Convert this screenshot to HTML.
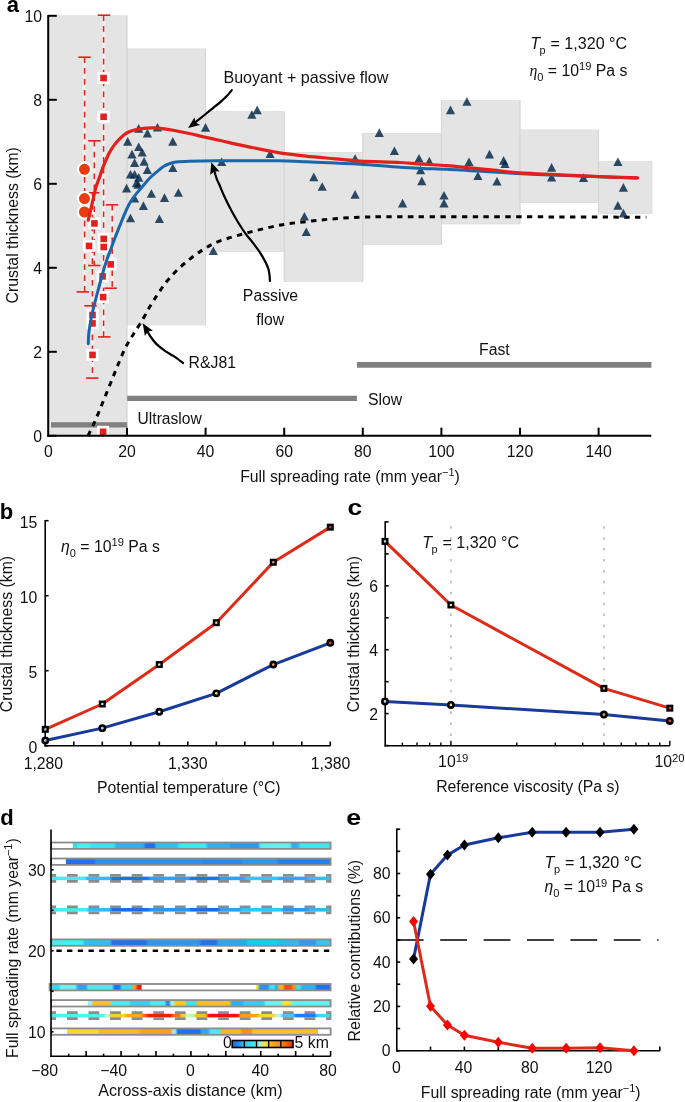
<!DOCTYPE html>
<html><head><meta charset="utf-8"><style>
html,body{margin:0;padding:0;background:#fff;}
svg{display:block;will-change:transform;}
text{font-family:"Liberation Sans",sans-serif;}
</style></head><body>
<svg width="685" height="1102" viewBox="0 0 685 1102">
<rect width="685" height="1102" fill="#fff"/>
<rect x="48.40" y="15.80" width="78.60" height="420.00" fill="#e4e4e4" stroke="#d9d9d9" stroke-width="0.7"/>
<rect x="127.00" y="48.90" width="78.60" height="276.00" fill="#e4e4e4" stroke="#d9d9d9" stroke-width="0.7"/>
<rect x="205.60" y="111.70" width="78.60" height="139.90" fill="#e4e4e4" stroke="#d9d9d9" stroke-width="0.7"/>
<rect x="284.20" y="152.40" width="78.60" height="129.10" fill="#e4e4e4" stroke="#d9d9d9" stroke-width="0.7"/>
<rect x="362.80" y="133.30" width="78.60" height="111.40" fill="#e4e4e4" stroke="#d9d9d9" stroke-width="0.7"/>
<rect x="441.40" y="100.60" width="78.60" height="123.40" fill="#e4e4e4" stroke="#d9d9d9" stroke-width="0.7"/>
<rect x="520.00" y="129.90" width="78.60" height="72.70" fill="#e4e4e4" stroke="#d9d9d9" stroke-width="0.7"/>
<rect x="598.60" y="161.30" width="53.40" height="52.40" fill="#e4e4e4" stroke="#d9d9d9" stroke-width="0.7"/>
<line x1="127.00" y1="15.80" x2="127.00" y2="435.80" stroke="#d2d2d2" stroke-width="0.8" />
<line x1="205.60" y1="48.90" x2="205.60" y2="324.90" stroke="#d2d2d2" stroke-width="0.8" />
<line x1="284.20" y1="111.70" x2="284.20" y2="281.50" stroke="#d2d2d2" stroke-width="0.8" />
<line x1="362.80" y1="133.30" x2="362.80" y2="281.50" stroke="#d2d2d2" stroke-width="0.8" />
<line x1="441.40" y1="100.60" x2="441.40" y2="244.70" stroke="#d2d2d2" stroke-width="0.8" />
<line x1="520.00" y1="100.60" x2="520.00" y2="224.00" stroke="#d2d2d2" stroke-width="0.8" />
<line x1="598.60" y1="129.90" x2="598.60" y2="213.70" stroke="#d2d2d2" stroke-width="0.8" />
<line x1="51.00" y1="424.80" x2="127.20" y2="424.80" stroke="#808080" stroke-width="5.2" />
<line x1="127.20" y1="398.30" x2="356.90" y2="398.30" stroke="#808080" stroke-width="5.2" />
<line x1="356.90" y1="364.90" x2="651.40" y2="364.90" stroke="#808080" stroke-width="5.6" />
<path d="M88.00,435.80 C89.00,433.72 92.00,427.72 94.00,423.30 C96.00,418.88 98.02,414.08 100.00,409.30 C101.98,404.52 103.92,399.52 105.90,394.60 C107.88,389.68 109.90,384.73 111.90,379.80 C113.90,374.87 115.90,369.80 117.90,365.00 C119.90,360.20 122.13,354.83 123.90,351.00 C125.67,347.17 126.82,344.97 128.50,342.00 C130.18,339.03 131.62,336.98 134.00,333.20 C136.38,329.42 140.02,323.95 142.80,319.30 C145.58,314.65 148.08,309.67 150.70,305.30 C153.32,300.93 155.73,297.18 158.50,293.10 C161.27,289.02 164.08,284.75 167.30,280.80 C170.52,276.85 174.00,273.05 177.80,269.40 C181.60,265.75 186.02,262.12 190.10,258.90 C194.18,255.68 198.22,252.73 202.30,250.10 C206.38,247.47 210.32,245.07 214.60,243.10 C218.88,241.13 223.43,239.77 228.00,238.30 C232.57,236.83 237.28,235.60 242.00,234.30 C246.72,233.00 249.55,232.10 256.30,230.50 C263.05,228.90 273.75,226.23 282.50,224.70 C291.25,223.17 300.03,222.30 308.80,221.30 C317.57,220.30 326.33,219.38 335.10,218.70 C343.87,218.02 352.65,217.52 361.40,217.20 C370.15,216.88 372.83,216.87 387.60,216.80 C402.37,216.73 421.27,216.78 450.00,216.80 C478.73,216.82 527.27,216.82 560.00,216.90 C592.73,216.98 632.00,217.23 646.40,217.30" fill="none" stroke="#000" stroke-width="3" stroke-dasharray="5.4 5.4"/>
<line x1="84.60" y1="57.20" x2="84.60" y2="291.90" stroke="#fff" stroke-width="3.0" stroke-opacity="0.4"/>
<line x1="94.30" y1="140.80" x2="94.30" y2="265.50" stroke="#fff" stroke-width="3.0" stroke-opacity="0.4"/>
<line x1="92.40" y1="192.80" x2="92.40" y2="378.10" stroke="#fff" stroke-width="3.0" stroke-opacity="0.4"/>
<line x1="103.60" y1="15.20" x2="103.60" y2="336.90" stroke="#fff" stroke-width="3.0" stroke-opacity="0.4"/>
<line x1="112.20" y1="204.80" x2="112.20" y2="288.20" stroke="#fff" stroke-width="3.0" stroke-opacity="0.4"/>
<line x1="84.60" y1="57.20" x2="84.60" y2="291.90" stroke="#e3201b" stroke-width="1.5" stroke-dasharray="5.7 5.2"/>
<line x1="94.30" y1="140.80" x2="94.30" y2="265.50" stroke="#e3201b" stroke-width="1.5" stroke-dasharray="5.7 5.2"/>
<line x1="92.40" y1="192.80" x2="92.40" y2="378.10" stroke="#e3201b" stroke-width="1.5" stroke-dasharray="5.7 5.2"/>
<line x1="103.60" y1="15.20" x2="103.60" y2="336.90" stroke="#e3201b" stroke-width="1.5" stroke-dasharray="5.7 5.2"/>
<line x1="112.20" y1="204.80" x2="112.20" y2="288.20" stroke="#e3201b" stroke-width="1.5" stroke-dasharray="5.7 5.2"/>
<line x1="78.30" y1="57.20" x2="90.70" y2="57.20" stroke="#e3201b" stroke-width="1.6" />
<line x1="97.80" y1="15.20" x2="110.20" y2="15.20" stroke="#e3201b" stroke-width="1.6" />
<line x1="88.20" y1="140.80" x2="100.60" y2="140.80" stroke="#e3201b" stroke-width="1.6" />
<line x1="105.80" y1="204.80" x2="118.20" y2="204.80" stroke="#e3201b" stroke-width="1.6" />
<line x1="87.00" y1="192.80" x2="99.40" y2="192.80" stroke="#e3201b" stroke-width="1.6" />
<line x1="88.10" y1="265.50" x2="100.50" y2="265.50" stroke="#e3201b" stroke-width="1.6" />
<line x1="76.60" y1="291.90" x2="89.00" y2="291.90" stroke="#e3201b" stroke-width="1.6" />
<line x1="104.40" y1="288.20" x2="116.80" y2="288.20" stroke="#e3201b" stroke-width="1.6" />
<line x1="84.30" y1="305.80" x2="96.70" y2="305.80" stroke="#e3201b" stroke-width="1.6" />
<line x1="98.10" y1="336.90" x2="110.50" y2="336.90" stroke="#e3201b" stroke-width="1.6" />
<line x1="86.10" y1="378.10" x2="98.50" y2="378.10" stroke="#e3201b" stroke-width="1.6" />
<rect x="97.60" y="72.00" width="12" height="12" fill="#fff"/>
<rect x="97.60" y="110.80" width="12" height="12" fill="#fff"/>
<rect x="88.40" y="217.40" width="12" height="12" fill="#fff"/>
<rect x="83.00" y="239.90" width="12" height="12" fill="#fff"/>
<rect x="97.70" y="232.90" width="12" height="12" fill="#fff"/>
<rect x="97.70" y="241.00" width="12" height="12" fill="#fff"/>
<rect x="104.70" y="258.40" width="12" height="12" fill="#fff"/>
<rect x="96.60" y="270.40" width="12" height="12" fill="#fff"/>
<rect x="97.10" y="291.10" width="12" height="12" fill="#fff"/>
<rect x="86.50" y="309.00" width="12" height="12" fill="#fff"/>
<rect x="86.50" y="317.40" width="12" height="12" fill="#fff"/>
<rect x="86.50" y="348.90" width="12" height="12" fill="#fff"/>
<rect x="97.10" y="425.80" width="12" height="12" fill="#fff"/>
<rect x="100.30" y="74.70" width="6.6" height="6.6" fill="#e3201b"/>
<rect x="100.30" y="113.50" width="6.6" height="6.6" fill="#e3201b"/>
<rect x="91.10" y="220.10" width="6.6" height="6.6" fill="#e3201b"/>
<rect x="85.70" y="242.60" width="6.6" height="6.6" fill="#e3201b"/>
<rect x="100.40" y="235.60" width="6.6" height="6.6" fill="#e3201b"/>
<rect x="100.40" y="243.70" width="6.6" height="6.6" fill="#e3201b"/>
<rect x="107.40" y="261.10" width="6.6" height="6.6" fill="#e3201b"/>
<rect x="99.30" y="273.10" width="6.6" height="6.6" fill="#e3201b"/>
<rect x="99.80" y="293.80" width="6.6" height="6.6" fill="#e3201b"/>
<rect x="89.20" y="311.70" width="6.6" height="6.6" fill="#e3201b"/>
<rect x="89.20" y="320.10" width="6.6" height="6.6" fill="#e3201b"/>
<rect x="89.20" y="351.60" width="6.6" height="6.6" fill="#e3201b"/>
<rect x="99.80" y="428.50" width="6.6" height="6.6" fill="#e3201b"/>
<circle cx="84.5" cy="169.3" r="6.5" fill="#e63c10" stroke="#fff" stroke-width="2.0"/>
<circle cx="84.5" cy="198.6" r="6.5" fill="#e63c10" stroke="#fff" stroke-width="2.0"/>
<circle cx="84.5" cy="212.0" r="6.5" fill="#e63c10" stroke="#fff" stroke-width="2.0"/>
<path d="M138.70,124.10 L143.30,132.70 L134.10,132.70Z" fill="#022646" fill-opacity="0.82"/>
<path d="M157.50,122.90 L162.10,131.50 L152.90,131.50Z" fill="#022646" fill-opacity="0.82"/>
<path d="M147.40,128.80 L152.00,137.40 L142.80,137.40Z" fill="#022646" fill-opacity="0.82"/>
<path d="M205.50,123.10 L210.10,131.70 L200.90,131.70Z" fill="#022646" fill-opacity="0.82"/>
<path d="M127.70,137.10 L132.30,145.70 L123.10,145.70Z" fill="#022646" fill-opacity="0.82"/>
<path d="M172.80,137.10 L177.40,145.70 L168.20,145.70Z" fill="#022646" fill-opacity="0.82"/>
<path d="M138.70,142.50 L143.30,151.10 L134.10,151.10Z" fill="#022646" fill-opacity="0.82"/>
<path d="M142.20,148.00 L146.80,156.60 L137.60,156.60Z" fill="#022646" fill-opacity="0.82"/>
<path d="M132.00,149.80 L136.60,158.40 L127.40,158.40Z" fill="#022646" fill-opacity="0.82"/>
<path d="M144.10,157.10 L148.70,165.70 L139.50,165.70Z" fill="#022646" fill-opacity="0.82"/>
<path d="M134.60,158.30 L139.20,166.90 L130.00,166.90Z" fill="#022646" fill-opacity="0.82"/>
<path d="M147.40,165.30 L152.00,173.90 L142.80,173.90Z" fill="#022646" fill-opacity="0.82"/>
<path d="M172.80,163.40 L177.40,172.00 L168.20,172.00Z" fill="#022646" fill-opacity="0.82"/>
<path d="M130.50,169.90 L135.10,178.50 L125.90,178.50Z" fill="#022646" fill-opacity="0.82"/>
<path d="M134.60,169.90 L139.20,178.50 L130.00,178.50Z" fill="#022646" fill-opacity="0.82"/>
<path d="M138.70,173.10 L143.30,181.70 L134.10,181.70Z" fill="#022646" fill-opacity="0.82"/>
<path d="M136.40,178.70 L141.00,187.30 L131.80,187.30Z" fill="#022646" fill-opacity="0.82"/>
<path d="M138.20,180.20 L142.80,188.80 L133.60,188.80Z" fill="#022646" fill-opacity="0.82"/>
<path d="M126.60,183.80 L131.20,192.40 L122.00,192.40Z" fill="#022646" fill-opacity="0.82"/>
<path d="M151.40,189.20 L156.00,197.80 L146.80,197.80Z" fill="#022646" fill-opacity="0.82"/>
<path d="M178.40,188.20 L183.00,196.80 L173.80,196.80Z" fill="#022646" fill-opacity="0.82"/>
<path d="M164.50,193.30 L169.10,201.90 L159.90,201.90Z" fill="#022646" fill-opacity="0.82"/>
<path d="M134.60,194.00 L139.20,202.60 L130.00,202.60Z" fill="#022646" fill-opacity="0.82"/>
<path d="M143.40,201.30 L148.00,209.90 L138.80,209.90Z" fill="#022646" fill-opacity="0.82"/>
<path d="M130.50,213.70 L135.10,222.30 L125.90,222.30Z" fill="#022646" fill-opacity="0.82"/>
<path d="M159.40,214.50 L164.00,223.10 L154.80,223.10Z" fill="#022646" fill-opacity="0.82"/>
<path d="M257.20,105.60 L261.80,114.20 L252.60,114.20Z" fill="#022646" fill-opacity="0.82"/>
<path d="M251.90,110.20 L256.50,118.80 L247.30,118.80Z" fill="#022646" fill-opacity="0.82"/>
<path d="M270.10,149.50 L274.70,158.10 L265.50,158.10Z" fill="#022646" fill-opacity="0.82"/>
<path d="M221.70,157.40 L226.30,166.00 L217.10,166.00Z" fill="#022646" fill-opacity="0.82"/>
<path d="M313.80,172.60 L318.40,181.20 L309.20,181.20Z" fill="#022646" fill-opacity="0.82"/>
<path d="M322.20,182.20 L326.80,190.80 L317.60,190.80Z" fill="#022646" fill-opacity="0.82"/>
<path d="M355.10,154.20 L359.70,162.80 L350.50,162.80Z" fill="#022646" fill-opacity="0.82"/>
<path d="M355.10,190.10 L359.70,198.70 L350.50,198.70Z" fill="#022646" fill-opacity="0.82"/>
<path d="M304.40,211.90 L309.00,220.50 L299.80,220.50Z" fill="#022646" fill-opacity="0.82"/>
<path d="M306.30,227.50 L310.90,236.10 L301.70,236.10Z" fill="#022646" fill-opacity="0.82"/>
<path d="M213.30,246.40 L217.90,255.00 L208.70,255.00Z" fill="#022646" fill-opacity="0.82"/>
<path d="M379.30,128.30 L383.90,136.90 L374.70,136.90Z" fill="#022646" fill-opacity="0.82"/>
<path d="M394.40,146.50 L399.00,155.10 L389.80,155.10Z" fill="#022646" fill-opacity="0.82"/>
<path d="M419.00,154.00 L423.60,162.60 L414.40,162.60Z" fill="#022646" fill-opacity="0.82"/>
<path d="M429.30,156.80 L433.90,165.40 L424.70,165.40Z" fill="#022646" fill-opacity="0.82"/>
<path d="M420.60,165.70 L425.20,174.30 L416.00,174.30Z" fill="#022646" fill-opacity="0.82"/>
<path d="M421.80,176.60 L426.40,185.20 L417.20,185.20Z" fill="#022646" fill-opacity="0.82"/>
<path d="M402.60,198.80 L407.20,207.40 L398.00,207.40Z" fill="#022646" fill-opacity="0.82"/>
<path d="M444.00,190.90 L448.60,199.50 L439.40,199.50Z" fill="#022646" fill-opacity="0.82"/>
<path d="M444.00,198.80 L448.60,207.40 L439.40,207.40Z" fill="#022646" fill-opacity="0.82"/>
<path d="M450.50,105.60 L455.10,114.20 L445.90,114.20Z" fill="#022646" fill-opacity="0.82"/>
<path d="M466.90,97.20 L471.50,105.80 L462.30,105.80Z" fill="#022646" fill-opacity="0.82"/>
<path d="M469.00,157.50 L473.60,166.10 L464.40,166.10Z" fill="#022646" fill-opacity="0.82"/>
<path d="M477.90,171.50 L482.50,180.10 L473.30,180.10Z" fill="#022646" fill-opacity="0.82"/>
<path d="M489.50,149.80 L494.10,158.40 L484.90,158.40Z" fill="#022646" fill-opacity="0.82"/>
<path d="M497.00,176.90 L501.60,185.50 L492.40,185.50Z" fill="#022646" fill-opacity="0.82"/>
<path d="M503.60,156.10 L508.20,164.70 L499.00,164.70Z" fill="#022646" fill-opacity="0.82"/>
<path d="M505.00,159.50 L509.60,168.10 L500.40,168.10Z" fill="#022646" fill-opacity="0.82"/>
<path d="M551.60,163.10 L556.20,171.70 L547.00,171.70Z" fill="#022646" fill-opacity="0.82"/>
<path d="M551.60,172.80 L556.20,181.40 L547.00,181.40Z" fill="#022646" fill-opacity="0.82"/>
<path d="M583.50,173.30 L588.10,181.90 L578.90,181.90Z" fill="#022646" fill-opacity="0.82"/>
<path d="M617.90,157.50 L622.50,166.10 L613.30,166.10Z" fill="#022646" fill-opacity="0.82"/>
<path d="M623.40,183.10 L628.00,191.70 L618.80,191.70Z" fill="#022646" fill-opacity="0.82"/>
<path d="M617.90,201.10 L622.50,209.70 L613.30,209.70Z" fill="#022646" fill-opacity="0.82"/>
<path d="M623.40,208.80 L628.00,217.40 L618.80,217.40Z" fill="#022646" fill-opacity="0.82"/>
<path d="M88.30,343.80 C88.38,342.08 88.45,337.03 88.80,333.50 C89.15,329.97 89.77,326.23 90.40,322.60 C91.03,318.97 91.78,315.33 92.60,311.70 C93.42,308.07 94.30,304.70 95.30,300.80 C96.30,296.90 97.38,292.85 98.60,288.30 C99.82,283.75 101.20,278.33 102.60,273.50 C104.00,268.67 105.58,263.48 107.00,259.30 C108.42,255.12 109.70,252.17 111.10,248.40 C112.50,244.63 113.95,240.47 115.40,236.70 C116.85,232.93 118.33,229.45 119.80,225.80 C121.27,222.15 122.73,218.22 124.20,214.80 C125.67,211.38 127.13,208.10 128.60,205.30 C130.07,202.50 131.30,200.43 133.00,198.00 C134.70,195.57 137.08,192.80 138.80,190.70 C140.52,188.60 141.38,187.60 143.30,185.40 C145.22,183.20 147.97,179.83 150.30,177.50 C152.63,175.17 154.97,173.30 157.30,171.40 C159.63,169.50 162.18,167.42 164.30,166.10 C166.42,164.78 168.05,164.18 170.00,163.50 C171.95,162.82 172.80,162.38 176.00,162.00 C179.20,161.62 182.13,161.40 189.20,161.20 C196.27,161.00 203.80,160.87 218.40,160.80 C233.00,160.73 262.20,160.65 276.80,160.80 C291.40,160.95 296.27,161.32 306.00,161.70 C315.73,162.08 326.20,162.68 335.20,163.10 C344.20,163.52 349.20,163.52 360.00,164.20 C370.80,164.88 389.43,166.50 400.00,167.20 C410.57,167.90 415.62,168.05 423.40,168.40 C431.18,168.75 438.92,168.92 446.70,169.30 C454.48,169.68 462.30,170.27 470.10,170.70 C477.90,171.13 485.72,171.43 493.50,171.90 C501.28,172.37 505.72,172.93 516.80,173.50 C527.88,174.07 546.13,174.75 560.00,175.30 C573.87,175.85 587.17,176.33 600.00,176.80 C612.83,177.27 630.83,177.88 637.00,178.10" fill="none" stroke="#1a66ac" stroke-width="3" stroke-linecap="round"/>
<path d="M88.30,220.20 C88.67,218.60 89.77,213.80 90.50,210.60 C91.23,207.40 91.80,204.87 92.70,201.00 C93.60,197.13 94.82,191.22 95.90,187.40 C96.98,183.58 98.12,181.18 99.20,178.10 C100.28,175.02 101.32,171.80 102.40,168.90 C103.48,166.00 104.52,163.43 105.70,160.70 C106.88,157.97 108.05,155.13 109.50,152.50 C110.95,149.87 112.58,147.28 114.40,144.90 C116.22,142.52 118.67,139.98 120.40,138.20 C122.13,136.42 123.33,135.28 124.80,134.20 C126.27,133.12 127.73,132.37 129.20,131.70 C130.67,131.03 131.90,130.63 133.60,130.20 C135.30,129.77 137.22,129.43 139.40,129.10 C141.58,128.77 144.43,128.40 146.70,128.20 C148.97,128.00 150.73,127.88 153.00,127.90 C155.27,127.92 156.93,127.90 160.30,128.30 C163.67,128.70 168.38,129.43 173.20,130.30 C178.02,131.17 183.85,132.35 189.20,133.50 C194.55,134.65 199.93,136.00 205.30,137.20 C210.67,138.40 216.45,139.58 221.40,140.70 C226.35,141.82 230.63,142.92 235.00,143.90 C239.37,144.88 240.63,145.20 247.60,146.60 C254.57,148.00 267.07,150.72 276.80,152.30 C286.53,153.88 296.27,155.02 306.00,156.10 C315.73,157.18 326.20,157.97 335.20,158.80 C344.20,159.63 349.20,160.48 360.00,161.10 C370.80,161.72 389.43,161.98 400.00,162.50 C410.57,163.02 415.62,163.68 423.40,164.20 C431.18,164.72 438.92,164.98 446.70,165.60 C454.48,166.22 462.30,167.13 470.10,167.90 C477.90,168.67 485.72,169.42 493.50,170.20 C501.28,170.98 505.72,171.82 516.80,172.60 C527.88,173.38 546.13,174.23 560.00,174.90 C573.87,175.57 587.07,176.12 600.00,176.60 C612.93,177.08 631.33,177.60 637.60,177.80" fill="none" stroke="#e3201b" stroke-width="3.2" stroke-linecap="round"/>
<path d="M231.80,90.10 C231.05,91.00 229.22,93.50 227.30,95.50 C225.38,97.50 222.63,100.05 220.30,102.10 C217.97,104.15 215.63,105.90 213.30,107.80 C210.97,109.70 208.63,111.60 206.30,113.50 C203.97,115.40 201.18,117.68 199.30,119.20 C197.42,120.72 195.72,122.03 195.00,122.60" fill="none" stroke="#000" stroke-width="2.2" stroke-linecap="round"/>
<path d="M188.10,127.90 L194.40,117.60 L195.60,122.53 L200.10,125.10Z" fill="#000"/>
<path d="M270.00,280.80 C269.72,278.77 269.75,272.97 268.30,268.60 C266.85,264.23 263.93,258.98 261.30,254.60 C258.67,250.22 255.13,245.80 252.50,242.30 C249.87,238.80 247.83,236.82 245.50,233.60 C243.17,230.38 240.83,226.80 238.50,223.00 C236.17,219.20 233.83,215.17 231.50,210.80 C229.17,206.43 226.53,201.18 224.50,196.80 C222.47,192.42 220.58,187.45 219.30,184.50 C218.02,181.55 217.65,181.40 216.80,179.10 C215.95,176.80 214.63,172.10 214.20,170.70" fill="none" stroke="#000" stroke-width="2.2" stroke-linecap="round"/>
<path d="M211.30,162.30 L210.20,174.90 L214.25,171.28 L219.60,171.60Z" fill="#000"/>
<path d="M183.00,363.00 C181.47,361.87 176.80,358.22 173.80,356.20 C170.80,354.18 167.92,352.95 165.00,350.90 C162.08,348.85 158.78,346.38 156.30,343.90 C153.82,341.42 151.57,338.05 150.10,336.00 C148.63,333.95 147.93,332.33 147.50,331.60" fill="none" stroke="#000" stroke-width="2.2" stroke-linecap="round"/>
<path d="M142.70,323.30 L144.90,336.00 L147.78,331.58 L152.90,330.80Z" fill="#000"/>
<line x1="48.20" y1="15.00" x2="48.20" y2="436.80" stroke="#000" stroke-width="2" />
<line x1="47.20" y1="435.80" x2="651.30" y2="435.80" stroke="#000" stroke-width="2" />
<line x1="48.20" y1="435.80" x2="56.80" y2="435.80" stroke="#000" stroke-width="2" />
<text x="42.0" y="442.4" font-size="15.8" text-anchor="end" fill="#111" >0</text>
<line x1="48.20" y1="351.80" x2="56.80" y2="351.80" stroke="#000" stroke-width="2" />
<text x="42.0" y="358.4" font-size="15.8" text-anchor="end" fill="#111" >2</text>
<line x1="48.20" y1="267.80" x2="56.80" y2="267.80" stroke="#000" stroke-width="2" />
<text x="42.0" y="274.4" font-size="15.8" text-anchor="end" fill="#111" >4</text>
<line x1="48.20" y1="183.80" x2="56.80" y2="183.80" stroke="#000" stroke-width="2" />
<text x="42.0" y="190.4" font-size="15.8" text-anchor="end" fill="#111" >6</text>
<line x1="48.20" y1="99.80" x2="56.80" y2="99.80" stroke="#000" stroke-width="2" />
<text x="42.0" y="106.4" font-size="15.8" text-anchor="end" fill="#111" >8</text>
<line x1="48.20" y1="15.80" x2="56.80" y2="15.80" stroke="#000" stroke-width="2" />
<text x="42.0" y="22.4" font-size="15.8" text-anchor="end" fill="#111" >10</text>
<line x1="127.00" y1="427.70" x2="127.00" y2="435.80" stroke="#000" stroke-width="2" />
<line x1="205.60" y1="427.70" x2="205.60" y2="435.80" stroke="#000" stroke-width="2" />
<line x1="284.20" y1="427.70" x2="284.20" y2="435.80" stroke="#000" stroke-width="2" />
<line x1="362.80" y1="427.70" x2="362.80" y2="435.80" stroke="#000" stroke-width="2" />
<line x1="441.40" y1="427.70" x2="441.40" y2="435.80" stroke="#000" stroke-width="2" />
<line x1="520.00" y1="427.70" x2="520.00" y2="435.80" stroke="#000" stroke-width="2" />
<line x1="598.60" y1="427.70" x2="598.60" y2="435.80" stroke="#000" stroke-width="2" />
<text x="48.4" y="457.2" font-size="15.8" text-anchor="middle" fill="#111" >0</text>
<text x="127.0" y="457.2" font-size="15.8" text-anchor="middle" fill="#111" >20</text>
<text x="205.6" y="457.2" font-size="15.8" text-anchor="middle" fill="#111" >40</text>
<text x="284.2" y="457.2" font-size="15.8" text-anchor="middle" fill="#111" >60</text>
<text x="362.8" y="457.2" font-size="15.8" text-anchor="middle" fill="#111" >80</text>
<text x="441.4" y="457.2" font-size="15.8" text-anchor="middle" fill="#111" >100</text>
<text x="520.0" y="457.2" font-size="15.8" text-anchor="middle" fill="#111" >120</text>
<text x="598.6" y="457.2" font-size="15.8" text-anchor="middle" fill="#111" >140</text>
<text x="0.0" y="0.0" font-size="15.8" text-anchor="middle" fill="#111" transform="translate(18.2,225.25) rotate(-90)">Crustal thickness (km)</text>
<text x="350" y="482.3" font-size="15.8" text-anchor="middle" fill="#111">Full spreading rate (mm year<tspan font-size="11" dy="-6">−1</tspan><tspan dy="6">)</tspan></text>
<text x="6.8" y="11.7" font-size="22" text-anchor="start" font-weight="bold" fill="#000" >a</text>
<text x="223.4" y="82.8" font-size="16.1" text-anchor="start" fill="#111" >Buoyant + passive flow</text>
<text x="270.5" y="301.0" font-size="15.8" text-anchor="middle" fill="#111" >Passive</text>
<text x="270.2" y="324.6" font-size="15.8" text-anchor="middle" fill="#111" >flow</text>
<text x="188.6" y="368.3" font-size="15.8" text-anchor="start" fill="#111" >R&amp;J81</text>
<text x="368.0" y="405.3" font-size="15.8" text-anchor="start" fill="#111" >Slow</text>
<text x="479.0" y="355.0" font-size="15.8" text-anchor="start" fill="#111" >Fast</text>
<text x="137.6" y="424.3" font-size="15.6" text-anchor="start" fill="#111" >Ultraslow</text>
<text x="530.3" y="48.9" font-size="16.1" fill="#111"><tspan font-style="italic">T</tspan><tspan font-size="10.9" dy="5.4" dx="-0.6">p</tspan><tspan dy="-5.4" dx="0.4"> = 1,320 °C</tspan></text>
<text x="529.4" y="76.0" font-size="15.8" fill="#111"><tspan font-family="Liberation Serif" font-style="italic">η</tspan><tspan font-size="11.1" dy="4.5">0</tspan><tspan dy="-4.5"> = 10</tspan><tspan font-size="11.1" dy="-6">19</tspan><tspan dy="6"> Pa s</tspan></text>
<line x1="45.20" y1="520.00" x2="45.20" y2="746.50" stroke="#000" stroke-width="1.6" />
<line x1="44.40" y1="745.70" x2="330.60" y2="745.70" stroke="#000" stroke-width="1.6" />
<line x1="45.20" y1="745.70" x2="48.60" y2="745.70" stroke="#000" stroke-width="1.6" />
<text x="37.4" y="752.7" font-size="15.8" text-anchor="end" fill="#111" >0</text>
<line x1="45.20" y1="670.70" x2="48.60" y2="670.70" stroke="#000" stroke-width="1.6" />
<text x="37.4" y="677.7" font-size="15.8" text-anchor="end" fill="#111" >5</text>
<line x1="45.20" y1="595.70" x2="48.60" y2="595.70" stroke="#000" stroke-width="1.6" />
<text x="37.4" y="602.7" font-size="15.8" text-anchor="end" fill="#111" >10</text>
<line x1="45.20" y1="520.70" x2="48.60" y2="520.70" stroke="#000" stroke-width="1.6" />
<text x="37.4" y="527.7" font-size="15.8" text-anchor="end" fill="#111" >15</text>
<line x1="73.80" y1="741.60" x2="73.80" y2="745.70" stroke="#000" stroke-width="1.6" />
<line x1="102.30" y1="741.60" x2="102.30" y2="745.70" stroke="#000" stroke-width="1.6" />
<line x1="130.80" y1="741.60" x2="130.80" y2="745.70" stroke="#000" stroke-width="1.6" />
<line x1="159.30" y1="741.60" x2="159.30" y2="745.70" stroke="#000" stroke-width="1.6" />
<line x1="187.80" y1="741.60" x2="187.80" y2="745.70" stroke="#000" stroke-width="1.6" />
<line x1="216.30" y1="741.60" x2="216.30" y2="745.70" stroke="#000" stroke-width="1.6" />
<line x1="244.80" y1="741.60" x2="244.80" y2="745.70" stroke="#000" stroke-width="1.6" />
<line x1="273.30" y1="741.60" x2="273.30" y2="745.70" stroke="#000" stroke-width="1.6" />
<line x1="301.80" y1="741.60" x2="301.80" y2="745.70" stroke="#000" stroke-width="1.6" />
<line x1="330.30" y1="741.60" x2="330.30" y2="745.70" stroke="#000" stroke-width="1.6" />
<text x="43.4" y="768.6" font-size="15.8" text-anchor="middle" fill="#111" >1,280</text>
<text x="187.8" y="768.6" font-size="15.8" text-anchor="middle" fill="#111" >1,330</text>
<text x="330.6" y="768.6" font-size="15.8" text-anchor="middle" fill="#111" >1,380</text>
<polyline points="45.30,729.35 102.30,704.00 159.30,664.55 216.30,622.70 273.30,562.25 330.30,527.15" fill="none" stroke="#e02a18" stroke-width="3.0" stroke-linejoin="round" stroke-linecap="round" />
<polyline points="45.30,740.45 102.30,728.15 159.30,711.80 216.30,693.35 273.30,664.55 330.30,642.80" fill="none" stroke="#183a9a" stroke-width="3.0" stroke-linejoin="round" stroke-linecap="round" />
<rect x="43.00" y="727.05" width="4.6" height="4.6" fill="#9ad4f0" stroke="#000" stroke-width="2.4"/>
<rect x="100.00" y="701.70" width="4.6" height="4.6" fill="#b0e0f0" stroke="#000" stroke-width="2.4"/>
<rect x="157.00" y="662.25" width="4.6" height="4.6" fill="#f0f0d8" stroke="#000" stroke-width="2.4"/>
<rect x="214.00" y="620.40" width="4.6" height="4.6" fill="#f0e080" stroke="#000" stroke-width="2.4"/>
<rect x="271.00" y="559.95" width="4.6" height="4.6" fill="#f0a060" stroke="#000" stroke-width="2.4"/>
<rect x="328.00" y="524.85" width="4.6" height="4.6" fill="#e04030" stroke="#000" stroke-width="2.4"/>
<circle cx="45.30" cy="740.45" r="2.65" fill="#9ad4f0" stroke="#000" stroke-width="2.6"/>
<circle cx="102.30" cy="728.15" r="2.65" fill="#b0e0f0" stroke="#000" stroke-width="2.6"/>
<circle cx="159.30" cy="711.80" r="2.65" fill="#f0f0d8" stroke="#000" stroke-width="2.6"/>
<circle cx="216.30" cy="693.35" r="2.65" fill="#f0e080" stroke="#000" stroke-width="2.6"/>
<circle cx="273.30" cy="664.55" r="2.65" fill="#f0a060" stroke="#000" stroke-width="2.6"/>
<circle cx="330.30" cy="642.80" r="2.65" fill="#e04030" stroke="#000" stroke-width="2.6"/>
<text x="12.5" y="634.0" font-size="15.8" text-anchor="middle" fill="#111" transform="rotate(-90 12.5 634.05)">Crustal thickness (km)</text>
<text x="188.8" y="793.1" font-size="15.8" text-anchor="middle" fill="#111" >Potential temperature (°C)</text>
<text x="-0.3" y="518.8" font-size="22" text-anchor="start" font-weight="bold" fill="#000" >b</text>
<text x="61.0" y="551.9" font-size="15.8" fill="#111"><tspan font-style="italic">η</tspan><tspan font-size="11.1" dy="4.6">0</tspan><tspan dy="-4.6"> = 10</tspan><tspan font-size="11.1" dy="-5.5">19</tspan><tspan dy="5.5"> Pa s</tspan></text>
<line x1="450.90" y1="526.30" x2="450.90" y2="745.00" stroke="#b4b4b4" stroke-width="1.5" stroke-dasharray="2.5 8.4"/>
<line x1="603.90" y1="526.30" x2="603.90" y2="745.00" stroke="#b4b4b4" stroke-width="1.5" stroke-dasharray="2.5 8.4"/>
<line x1="385.20" y1="521.20" x2="385.20" y2="746.50" stroke="#000" stroke-width="1.6" />
<line x1="384.40" y1="745.70" x2="669.90" y2="745.70" stroke="#000" stroke-width="1.6" />
<line x1="385.20" y1="745.55" x2="388.60" y2="745.55" stroke="#000" stroke-width="1.6" />
<line x1="385.20" y1="713.60" x2="388.60" y2="713.60" stroke="#000" stroke-width="1.6" />
<line x1="385.20" y1="681.65" x2="388.60" y2="681.65" stroke="#000" stroke-width="1.6" />
<line x1="385.20" y1="649.70" x2="388.60" y2="649.70" stroke="#000" stroke-width="1.6" />
<line x1="385.20" y1="617.75" x2="388.60" y2="617.75" stroke="#000" stroke-width="1.6" />
<line x1="385.20" y1="585.80" x2="388.60" y2="585.80" stroke="#000" stroke-width="1.6" />
<line x1="385.20" y1="553.85" x2="388.60" y2="553.85" stroke="#000" stroke-width="1.6" />
<line x1="385.20" y1="521.90" x2="388.60" y2="521.90" stroke="#000" stroke-width="1.6" />
<text x="378.0" y="720.0" font-size="15.8" text-anchor="end" fill="#111" >2</text>
<text x="378.0" y="656.1" font-size="15.8" text-anchor="end" fill="#111" >4</text>
<text x="378.0" y="592.2" font-size="15.8" text-anchor="end" fill="#111" >6</text>
<line x1="402.34" y1="742.60" x2="402.34" y2="745.70" stroke="#000" stroke-width="1.4" />
<line x1="416.99" y1="742.60" x2="416.99" y2="745.70" stroke="#000" stroke-width="1.4" />
<line x1="429.69" y1="742.60" x2="429.69" y2="745.70" stroke="#000" stroke-width="1.4" />
<line x1="440.88" y1="742.60" x2="440.88" y2="745.70" stroke="#000" stroke-width="1.4" />
<line x1="450.90" y1="740.70" x2="450.90" y2="745.70" stroke="#000" stroke-width="1.4" />
<line x1="516.80" y1="742.60" x2="516.80" y2="745.70" stroke="#000" stroke-width="1.4" />
<line x1="555.34" y1="742.60" x2="555.34" y2="745.70" stroke="#000" stroke-width="1.4" />
<line x1="582.69" y1="742.60" x2="582.69" y2="745.70" stroke="#000" stroke-width="1.4" />
<line x1="603.90" y1="742.60" x2="603.90" y2="745.70" stroke="#000" stroke-width="1.4" />
<line x1="621.24" y1="742.60" x2="621.24" y2="745.70" stroke="#000" stroke-width="1.4" />
<line x1="635.89" y1="742.60" x2="635.89" y2="745.70" stroke="#000" stroke-width="1.4" />
<line x1="648.59" y1="742.60" x2="648.59" y2="745.70" stroke="#000" stroke-width="1.4" />
<line x1="659.78" y1="742.60" x2="659.78" y2="745.70" stroke="#000" stroke-width="1.4" />
<line x1="669.80" y1="740.70" x2="669.80" y2="745.70" stroke="#000" stroke-width="1.4" />
<text x="438.1" y="767.3" font-size="15.8" fill="#111">10<tspan font-size="11.3" dy="-5.2">19</tspan></text>
<text x="654.4" y="767.3" font-size="15.8" fill="#111">10<tspan font-size="11.3" dy="-5.2">20</tspan></text>
<polyline points="385.00,541.39 450.90,604.97 603.90,688.36 669.80,708.17" fill="none" stroke="#e02a18" stroke-width="3.0" stroke-linejoin="round" stroke-linecap="round" />
<polyline points="385.00,701.46 450.90,704.97 603.90,714.56 669.80,720.95" fill="none" stroke="#183a9a" stroke-width="3.0" stroke-linejoin="round" stroke-linecap="round" />
<rect x="382.70" y="539.09" width="4.6" height="4.6" fill="#b0e4f0" stroke="#000" stroke-width="2.4"/>
<rect x="448.60" y="602.67" width="4.6" height="4.6" fill="#f0e0a0" stroke="#000" stroke-width="2.4"/>
<rect x="601.60" y="686.06" width="4.6" height="4.6" fill="#f0a060" stroke="#000" stroke-width="2.4"/>
<rect x="667.50" y="705.87" width="4.6" height="4.6" fill="#e04030" stroke="#000" stroke-width="2.4"/>
<circle cx="385.00" cy="701.46" r="2.65" fill="#b0e4f0" stroke="#000" stroke-width="2.6"/>
<circle cx="450.90" cy="704.97" r="2.65" fill="#f0e0a0" stroke="#000" stroke-width="2.6"/>
<circle cx="603.90" cy="714.56" r="2.65" fill="#f0a060" stroke="#000" stroke-width="2.6"/>
<circle cx="669.80" cy="720.95" r="2.65" fill="#e04030" stroke="#000" stroke-width="2.6"/>
<text x="359.0" y="634.0" font-size="15.8" text-anchor="middle" fill="#111" transform="rotate(-90 359.0 634.05)">Crustal thickness (km)</text>
<text x="527.9" y="791.7" font-size="15.8" text-anchor="middle" fill="#111" >Reference viscosity (Pa s)</text>
<text x="0.0" y="0.0" font-size="22" text-anchor="start" font-weight="bold" fill="#000" transform="translate(347.6,515.3) scale(1.2,1)">c</text>
<text x="422.2" y="548.0" font-size="16.1" fill="#111"><tspan font-style="italic">T</tspan><tspan font-size="10.9" dy="5.4" dx="-0.6">p</tspan><tspan dy="-5.4" dx="0.4"> = 1,320 °C</tspan></text>
<line x1="396.80" y1="939.95" x2="658.50" y2="939.95" stroke="#000" stroke-width="1.5" stroke-dasharray="26.8 16.6"/>
<line x1="396.80" y1="828.60" x2="396.80" y2="1051.50" stroke="#000" stroke-width="1.6" />
<line x1="396.00" y1="1050.70" x2="660.20" y2="1050.70" stroke="#000" stroke-width="1.6" />
<line x1="396.80" y1="1050.70" x2="400.20" y2="1050.70" stroke="#000" stroke-width="1.6" />
<line x1="396.80" y1="1028.55" x2="400.20" y2="1028.55" stroke="#000" stroke-width="1.6" />
<line x1="396.80" y1="1006.40" x2="400.20" y2="1006.40" stroke="#000" stroke-width="1.6" />
<line x1="396.80" y1="984.25" x2="400.20" y2="984.25" stroke="#000" stroke-width="1.6" />
<line x1="396.80" y1="962.10" x2="400.20" y2="962.10" stroke="#000" stroke-width="1.6" />
<line x1="396.80" y1="939.95" x2="400.20" y2="939.95" stroke="#000" stroke-width="1.6" />
<line x1="396.80" y1="917.80" x2="400.20" y2="917.80" stroke="#000" stroke-width="1.6" />
<line x1="396.80" y1="895.65" x2="400.20" y2="895.65" stroke="#000" stroke-width="1.6" />
<line x1="396.80" y1="873.50" x2="400.20" y2="873.50" stroke="#000" stroke-width="1.6" />
<line x1="396.80" y1="851.35" x2="400.20" y2="851.35" stroke="#000" stroke-width="1.6" />
<line x1="396.80" y1="829.20" x2="400.20" y2="829.20" stroke="#000" stroke-width="1.6" />
<text x="390.6" y="1056.3" font-size="15.8" text-anchor="end" fill="#111" >0</text>
<text x="390.6" y="1012.0" font-size="15.8" text-anchor="end" fill="#111" >20</text>
<text x="390.6" y="967.7" font-size="15.8" text-anchor="end" fill="#111" >40</text>
<text x="390.6" y="923.4" font-size="15.8" text-anchor="end" fill="#111" >60</text>
<text x="390.6" y="879.1" font-size="15.8" text-anchor="end" fill="#111" >80</text>
<line x1="430.50" y1="1046.60" x2="430.50" y2="1050.70" stroke="#000" stroke-width="1.6" />
<line x1="464.40" y1="1046.60" x2="464.40" y2="1050.70" stroke="#000" stroke-width="1.6" />
<line x1="498.30" y1="1046.60" x2="498.30" y2="1050.70" stroke="#000" stroke-width="1.6" />
<line x1="532.20" y1="1046.60" x2="532.20" y2="1050.70" stroke="#000" stroke-width="1.6" />
<line x1="566.10" y1="1046.60" x2="566.10" y2="1050.70" stroke="#000" stroke-width="1.6" />
<line x1="600.00" y1="1046.60" x2="600.00" y2="1050.70" stroke="#000" stroke-width="1.6" />
<line x1="633.90" y1="1046.60" x2="633.90" y2="1050.70" stroke="#000" stroke-width="1.6" />
<line x1="659.83" y1="1046.60" x2="659.83" y2="1050.70" stroke="#000" stroke-width="1.6" />
<text x="396.5" y="1073.0" font-size="15.8" text-anchor="middle" fill="#111" >0</text>
<text x="463.6" y="1073.0" font-size="15.8" text-anchor="middle" fill="#111" >40</text>
<text x="529.7" y="1073.0" font-size="15.8" text-anchor="middle" fill="#111" >80</text>
<text x="599.0" y="1073.0" font-size="15.8" text-anchor="middle" fill="#111" >120</text>
<polyline points="413.55,959.00 430.50,874.16 447.45,855.12 464.40,844.93 498.30,837.84 532.20,832.30 566.10,832.30 600.00,832.30 633.90,829.20" fill="none" stroke="#183a9a" stroke-width="3.0" stroke-linejoin="round" stroke-linecap="round" />
<polyline points="413.55,921.57 430.50,1006.18 447.45,1025.01 464.40,1035.19 498.30,1042.28 532.20,1048.26 566.10,1048.26 600.00,1047.82 633.90,1050.70" fill="none" stroke="#e02a18" stroke-width="3.0" stroke-linejoin="round" stroke-linecap="round" />
<path d="M413.55,953.50 L418.05,959.00 L413.55,964.50 L409.05,959.00Z" fill="#000"/>
<path d="M430.50,868.66 L435.00,874.16 L430.50,879.66 L426.00,874.16Z" fill="#000"/>
<path d="M447.45,849.62 L451.95,855.12 L447.45,860.62 L442.95,855.12Z" fill="#000"/>
<path d="M464.40,839.43 L468.90,844.93 L464.40,850.43 L459.90,844.93Z" fill="#000"/>
<path d="M498.30,832.34 L502.80,837.84 L498.30,843.34 L493.80,837.84Z" fill="#000"/>
<path d="M532.20,826.80 L536.70,832.30 L532.20,837.80 L527.70,832.30Z" fill="#000"/>
<path d="M566.10,826.80 L570.60,832.30 L566.10,837.80 L561.60,832.30Z" fill="#000"/>
<path d="M600.00,826.80 L604.50,832.30 L600.00,837.80 L595.50,832.30Z" fill="#000"/>
<path d="M633.90,823.70 L638.40,829.20 L633.90,834.70 L629.40,829.20Z" fill="#000"/>
<path d="M413.55,916.07 L418.05,921.57 L413.55,927.07 L409.05,921.57Z" fill="#f00"/>
<path d="M430.50,1000.68 L435.00,1006.18 L430.50,1011.68 L426.00,1006.18Z" fill="#f00"/>
<path d="M447.45,1019.51 L451.95,1025.01 L447.45,1030.51 L442.95,1025.01Z" fill="#f00"/>
<path d="M464.40,1029.69 L468.90,1035.19 L464.40,1040.69 L459.90,1035.19Z" fill="#f00"/>
<path d="M498.30,1036.78 L502.80,1042.28 L498.30,1047.78 L493.80,1042.28Z" fill="#f00"/>
<path d="M532.20,1042.76 L536.70,1048.26 L532.20,1053.76 L527.70,1048.26Z" fill="#f00"/>
<path d="M566.10,1042.76 L570.60,1048.26 L566.10,1053.76 L561.60,1048.26Z" fill="#f00"/>
<path d="M600.00,1042.32 L604.50,1047.82 L600.00,1053.32 L595.50,1047.82Z" fill="#f00"/>
<path d="M633.90,1045.20 L638.40,1050.70 L633.90,1056.20 L629.40,1050.70Z" fill="#f00"/>
<text x="359.6" y="950.6" font-size="15.95" text-anchor="middle" fill="#111" transform="rotate(-90 359.6 950.6)">Relative contributions (%)</text>
<text x="530.7" y="1098.2" font-size="15.8" text-anchor="middle" fill="#111">Full spreading rate (mm year<tspan font-size="11" dy="-6">−1</tspan><tspan dy="6">)</tspan></text>
<text x="0.0" y="0.0" font-size="22" text-anchor="start" font-weight="bold" fill="#000" transform="translate(346.3,825.4) scale(1.22,1)">e</text>
<text x="544.6" y="867.9" font-size="16.2" fill="#111"><tspan font-style="italic">T</tspan><tspan font-size="11.0" dy="5.4" dx="-0.6">p</tspan><tspan dy="-5.4" dx="0.4"> = 1,320 °C</tspan></text>
<text x="544.4" y="892.4" font-size="15.8" fill="#111"><tspan font-style="italic">η</tspan><tspan font-size="11.1" dy="4.6">0</tspan><tspan dy="-4.6"> = 10</tspan><tspan font-size="11.1" dy="-5.5">19</tspan><tspan dy="5.5"> Pa s</tspan></text>
<defs><linearGradient id="rg1" gradientUnits="userSpaceOnUse" x1="72.80" y1="0" x2="330.60" y2="0"><stop offset="0.0054" stop-color="#30e0f0"/><stop offset="0.0125" stop-color="#30e0f0"/><stop offset="0.0240" stop-color="#50eef0"/><stop offset="0.0605" stop-color="#50eef0"/><stop offset="0.0729" stop-color="#40e0f0"/><stop offset="0.1575" stop-color="#40e0f0"/><stop offset="0.1699" stop-color="#30b0f0"/><stop offset="0.2727" stop-color="#30b0f0"/><stop offset="0.2851" stop-color="#2070f0"/><stop offset="0.3134" stop-color="#2070f0"/><stop offset="0.3258" stop-color="#30c0f0"/><stop offset="0.4030" stop-color="#30c0f0"/><stop offset="0.4154" stop-color="#40e6f0"/><stop offset="0.5136" stop-color="#40e6f0"/><stop offset="0.5260" stop-color="#30b0f0"/><stop offset="0.6036" stop-color="#30b0f0"/><stop offset="0.6160" stop-color="#2898f0"/><stop offset="0.7176" stop-color="#2898f0"/><stop offset="0.7300" stop-color="#60f0f0"/><stop offset="0.8402" stop-color="#60f0f0"/><stop offset="0.8526" stop-color="#30b0f0"/><stop offset="0.8712" stop-color="#30b0f0"/><stop offset="0.8836" stop-color="#40e6f0"/><stop offset="0.9938" stop-color="#40e6f0"/></linearGradient></defs>
<rect x="72.80" y="842.50" width="257.80" height="6.40" fill="url(#rg1)"/>
<rect x="51.20" y="842.50" width="279.40" height="6.40" fill="none" stroke="#8c8c8c" stroke-width="1.8"/>
<defs><linearGradient id="rg2" gradientUnits="userSpaceOnUse" x1="65.90" y1="0" x2="330.60" y2="0"><stop offset="0.0060" stop-color="#2070f0"/><stop offset="0.1039" stop-color="#2070f0"/><stop offset="0.1160" stop-color="#2890f0"/><stop offset="0.5104" stop-color="#2890f0"/><stop offset="0.5225" stop-color="#2888f0"/><stop offset="0.6592" stop-color="#2888f0"/><stop offset="0.6713" stop-color="#2898f0"/><stop offset="0.7952" stop-color="#2898f0"/><stop offset="0.8073" stop-color="#2080f0"/><stop offset="0.9940" stop-color="#2080f0"/></linearGradient></defs>
<rect x="65.90" y="858.50" width="264.70" height="6.40" fill="url(#rg2)"/>
<rect x="51.20" y="858.50" width="279.40" height="6.40" fill="none" stroke="#8c8c8c" stroke-width="1.8"/>
<defs><linearGradient id="rg3" gradientUnits="userSpaceOnUse" x1="51.20" y1="0" x2="330.60" y2="0"><stop offset="0.0057" stop-color="#40f0f0"/><stop offset="0.1181" stop-color="#40f0f0"/><stop offset="0.1296" stop-color="#30c0f0"/><stop offset="0.2083" stop-color="#30c0f0"/><stop offset="0.2198" stop-color="#2070f0"/><stop offset="0.3443" stop-color="#2070f0"/><stop offset="0.3558" stop-color="#30a0f0"/><stop offset="0.4911" stop-color="#30a0f0"/><stop offset="0.5025" stop-color="#2070f0"/><stop offset="0.5963" stop-color="#2070f0"/><stop offset="0.6077" stop-color="#30a0f0"/><stop offset="0.6868" stop-color="#30a0f0"/><stop offset="0.6983" stop-color="#20d0f8"/><stop offset="0.8071" stop-color="#20d0f8"/><stop offset="0.8185" stop-color="#30a8f0"/><stop offset="0.9123" stop-color="#30a8f0"/><stop offset="0.9238" stop-color="#30c0f0"/><stop offset="0.9943" stop-color="#30c0f0"/></linearGradient></defs>
<rect x="51.20" y="876.60" width="279.40" height="3.60" fill="url(#rg3)"/>
<line x1="51.20" y1="875.40" x2="330.60" y2="875.40" stroke="#8c8c8c" stroke-width="2.7" stroke-dasharray="10.8 10.8" stroke-dashoffset="5.9"/>
<line x1="51.20" y1="881.40" x2="330.60" y2="881.40" stroke="#8c8c8c" stroke-width="2.7" stroke-dasharray="10.8 10.8" stroke-dashoffset="5.9"/>
<line x1="330.60" y1="874.10" x2="330.60" y2="882.70" stroke="#8c8c8c" stroke-width="1.6" />
<defs><linearGradient id="rg4" gradientUnits="userSpaceOnUse" x1="51.20" y1="0" x2="330.60" y2="0"><stop offset="0.0057" stop-color="#40f0f0"/><stop offset="0.1260" stop-color="#40f0f0"/><stop offset="0.1374" stop-color="#30c0f0"/><stop offset="0.2083" stop-color="#30c0f0"/><stop offset="0.2198" stop-color="#2068f0"/><stop offset="0.3443" stop-color="#2068f0"/><stop offset="0.3558" stop-color="#2898f0"/><stop offset="0.4911" stop-color="#2898f0"/><stop offset="0.5025" stop-color="#2068f0"/><stop offset="0.5963" stop-color="#2068f0"/><stop offset="0.6077" stop-color="#30a0f0"/><stop offset="0.6718" stop-color="#30a0f0"/><stop offset="0.6832" stop-color="#20d0f8"/><stop offset="0.8225" stop-color="#20d0f8"/><stop offset="0.8339" stop-color="#2898f0"/><stop offset="0.9123" stop-color="#2898f0"/><stop offset="0.9238" stop-color="#30b8f0"/><stop offset="0.9943" stop-color="#30b8f0"/></linearGradient></defs>
<rect x="51.20" y="908.00" width="279.40" height="3.60" fill="url(#rg4)"/>
<line x1="51.20" y1="906.80" x2="330.60" y2="906.80" stroke="#8c8c8c" stroke-width="2.7" stroke-dasharray="10.8 10.8" stroke-dashoffset="5.9"/>
<line x1="51.20" y1="912.80" x2="330.60" y2="912.80" stroke="#8c8c8c" stroke-width="2.7" stroke-dasharray="10.8 10.8" stroke-dashoffset="5.9"/>
<line x1="330.60" y1="905.50" x2="330.60" y2="914.10" stroke="#8c8c8c" stroke-width="1.6" />
<defs><linearGradient id="rg5" gradientUnits="userSpaceOnUse" x1="51.20" y1="0" x2="330.60" y2="0"><stop offset="0.0057" stop-color="#40f0f0"/><stop offset="0.1106" stop-color="#40f0f0"/><stop offset="0.1220" stop-color="#30c0f0"/><stop offset="0.2083" stop-color="#30c0f0"/><stop offset="0.2198" stop-color="#2070f0"/><stop offset="0.3364" stop-color="#2070f0"/><stop offset="0.3479" stop-color="#2898f0"/><stop offset="0.5286" stop-color="#2898f0"/><stop offset="0.5401" stop-color="#2070f0"/><stop offset="0.5888" stop-color="#2070f0"/><stop offset="0.6002" stop-color="#28a8f0"/><stop offset="0.6943" stop-color="#28a8f0"/><stop offset="0.7058" stop-color="#10d0f8"/><stop offset="0.8071" stop-color="#10d0f8"/><stop offset="0.8185" stop-color="#30b8f0"/><stop offset="0.8822" stop-color="#30b8f0"/><stop offset="0.8937" stop-color="#3098f0"/><stop offset="0.9424" stop-color="#3098f0"/><stop offset="0.9538" stop-color="#30c8f0"/><stop offset="0.9943" stop-color="#30c8f0"/></linearGradient></defs>
<rect x="51.20" y="939.40" width="279.40" height="6.40" fill="url(#rg5)"/>
<rect x="51.20" y="939.40" width="279.40" height="6.40" fill="none" stroke="#8c8c8c" stroke-width="1.8"/>
<defs><linearGradient id="rg6" gradientUnits="userSpaceOnUse" x1="51.20" y1="0" x2="141.60" y2="0"><stop offset="0.0177" stop-color="#30d8f0"/><stop offset="0.0763" stop-color="#30d8f0"/><stop offset="0.1117" stop-color="#70eef0"/><stop offset="0.2622" stop-color="#70eef0"/><stop offset="0.2976" stop-color="#30a0f0"/><stop offset="0.3783" stop-color="#30a0f0"/><stop offset="0.4137" stop-color="#50e8f0"/><stop offset="0.6692" stop-color="#50e8f0"/><stop offset="0.7046" stop-color="#2070f0"/><stop offset="0.7500" stop-color="#2070f0"/><stop offset="0.7854" stop-color="#40d8f0"/><stop offset="0.8783" stop-color="#40d8f0"/><stop offset="0.9100" stop-color="#f8a020"/><stop offset="0.9285" stop-color="#f8a020"/><stop offset="0.9597" stop-color="#e82010"/><stop offset="0.9827" stop-color="#e82010"/></linearGradient></defs>
<rect x="51.20" y="984.00" width="90.40" height="6.40" fill="url(#rg6)"/>
<defs><linearGradient id="rg7" gradientUnits="userSpaceOnUse" x1="256.20" y1="0" x2="330.60" y2="0"><stop offset="0.0085" stop-color="#e8e030"/><stop offset="0.0198" stop-color="#e8e030"/><stop offset="0.0497" stop-color="#3090f0"/><stop offset="0.1505" stop-color="#3090f0"/><stop offset="0.1935" stop-color="#40e0f0"/><stop offset="0.2366" stop-color="#40e0f0"/><stop offset="0.2665" stop-color="#30b0f0"/><stop offset="0.2778" stop-color="#30b0f0"/><stop offset="0.3078" stop-color="#f8b020"/><stop offset="0.3508" stop-color="#f8b020"/><stop offset="0.3938" stop-color="#f05018"/><stop offset="0.4651" stop-color="#f05018"/><stop offset="0.4995" stop-color="#f09020"/><stop offset="0.5167" stop-color="#f09020"/><stop offset="0.5511" stop-color="#40e0f0"/><stop offset="0.5806" stop-color="#40e0f0"/><stop offset="0.6237" stop-color="#30b0f0"/><stop offset="0.7809" stop-color="#30b0f0"/><stop offset="0.8239" stop-color="#2070f0"/><stop offset="0.9785" stop-color="#2070f0"/></linearGradient></defs>
<rect x="256.20" y="984.00" width="74.40" height="6.40" fill="url(#rg7)"/>
<rect x="49.60" y="984.00" width="281.00" height="6.40" fill="none" stroke="#8c8c8c" stroke-width="1.8"/>
<defs><linearGradient id="rg8" gradientUnits="userSpaceOnUse" x1="88.00" y1="0" x2="330.60" y2="0"><stop offset="0.0052" stop-color="#a0f0f0"/><stop offset="0.0121" stop-color="#a0f0f0"/><stop offset="0.0239" stop-color="#f8c020"/><stop offset="0.0890" stop-color="#f8c020"/><stop offset="0.1022" stop-color="#50e8f0"/><stop offset="0.1665" stop-color="#50e8f0"/><stop offset="0.1797" stop-color="#40c8f0"/><stop offset="0.2490" stop-color="#40c8f0"/><stop offset="0.2622" stop-color="#50e8f0"/><stop offset="0.3141" stop-color="#50e8f0"/><stop offset="0.3259" stop-color="#3080f0"/><stop offset="0.3328" stop-color="#3080f0"/><stop offset="0.3432" stop-color="#a0f0f0"/><stop offset="0.3501" stop-color="#a0f0f0"/><stop offset="0.3619" stop-color="#f8c820"/><stop offset="0.3965" stop-color="#f8c820"/><stop offset="0.4097" stop-color="#40e0f0"/><stop offset="0.4406" stop-color="#40e0f0"/><stop offset="0.4538" stop-color="#f8c020"/><stop offset="0.5812" stop-color="#f8c020"/><stop offset="0.5944" stop-color="#30b0f0"/><stop offset="0.6340" stop-color="#30b0f0"/><stop offset="0.6472" stop-color="#40c8f0"/><stop offset="0.7218" stop-color="#40c8f0"/><stop offset="0.7350" stop-color="#70f0f0"/><stop offset="0.7923" stop-color="#70f0f0"/><stop offset="0.8054" stop-color="#f8e030"/><stop offset="0.8318" stop-color="#f8e030"/><stop offset="0.8450" stop-color="#60f0f0"/><stop offset="0.9934" stop-color="#60f0f0"/></linearGradient></defs>
<rect x="88.00" y="1000.10" width="242.60" height="6.40" fill="url(#rg8)"/>
<rect x="51.20" y="1000.10" width="279.40" height="6.40" fill="none" stroke="#8c8c8c" stroke-width="1.8"/>
<defs><linearGradient id="rg9" gradientUnits="userSpaceOnUse" x1="51.20" y1="0" x2="330.60" y2="0"><stop offset="0.0057" stop-color="#50f0f0"/><stop offset="0.1865" stop-color="#50f0f0"/><stop offset="0.1966" stop-color="#c0f8e0"/><stop offset="0.2025" stop-color="#c0f8e0"/><stop offset="0.2126" stop-color="#f8d030"/><stop offset="0.2616" stop-color="#f8d030"/><stop offset="0.2731" stop-color="#f8a820"/><stop offset="0.3218" stop-color="#f8a820"/><stop offset="0.3320" stop-color="#f06020"/><stop offset="0.3380" stop-color="#f06020"/><stop offset="0.3482" stop-color="#e82010"/><stop offset="0.4270" stop-color="#e82010"/><stop offset="0.4384" stop-color="#f07020"/><stop offset="0.4571" stop-color="#f07020"/><stop offset="0.4685" stop-color="#f8d030"/><stop offset="0.4761" stop-color="#f8d030"/><stop offset="0.4875" stop-color="#b0f8e8"/><stop offset="0.5068" stop-color="#b0f8e8"/><stop offset="0.5183" stop-color="#f8c020"/><stop offset="0.5526" stop-color="#f8c020"/><stop offset="0.5641" stop-color="#f01010"/><stop offset="0.6671" stop-color="#f01010"/><stop offset="0.6786" stop-color="#f8a020"/><stop offset="0.7355" stop-color="#f8a020"/><stop offset="0.7470" stop-color="#f8d830"/><stop offset="0.7967" stop-color="#f8d830"/><stop offset="0.8082" stop-color="#b0f8e8"/><stop offset="0.8196" stop-color="#b0f8e8"/><stop offset="0.8311" stop-color="#40c8f0"/><stop offset="0.8654" stop-color="#40c8f0"/><stop offset="0.8769" stop-color="#2878f0"/><stop offset="0.9417" stop-color="#2878f0"/><stop offset="0.9531" stop-color="#40d8f0"/><stop offset="0.9943" stop-color="#40d8f0"/></linearGradient></defs>
<rect x="51.20" y="1013.80" width="279.40" height="3.60" fill="url(#rg9)"/>
<line x1="51.20" y1="1012.60" x2="330.60" y2="1012.60" stroke="#8c8c8c" stroke-width="2.7" stroke-dasharray="10.8 10.8" stroke-dashoffset="5.9"/>
<line x1="51.20" y1="1018.60" x2="330.60" y2="1018.60" stroke="#8c8c8c" stroke-width="2.7" stroke-dasharray="10.8 10.8" stroke-dashoffset="5.9"/>
<line x1="330.60" y1="1011.30" x2="330.60" y2="1019.90" stroke="#8c8c8c" stroke-width="1.6" />
<defs><linearGradient id="rg10" gradientUnits="userSpaceOnUse" x1="67.00" y1="0" x2="318.00" y2="0"><stop offset="0.0064" stop-color="#f8d830"/><stop offset="0.1195" stop-color="#f8d830"/><stop offset="0.1323" stop-color="#f8b828"/><stop offset="0.2845" stop-color="#f8b828"/><stop offset="0.2972" stop-color="#f8a020"/><stop offset="0.4124" stop-color="#f8a020"/><stop offset="0.4237" stop-color="#a0f0f0"/><stop offset="0.4304" stop-color="#a0f0f0"/><stop offset="0.4418" stop-color="#2070f0"/><stop offset="0.5267" stop-color="#2070f0"/><stop offset="0.5394" stop-color="#30a8f0"/><stop offset="0.5606" stop-color="#30a8f0"/><stop offset="0.5733" stop-color="#50e8f0"/><stop offset="0.6072" stop-color="#50e8f0"/><stop offset="0.6199" stop-color="#f8b820"/><stop offset="0.6880" stop-color="#f8b820"/><stop offset="0.7008" stop-color="#f09020"/><stop offset="0.7303" stop-color="#f09020"/><stop offset="0.7430" stop-color="#f8c030"/><stop offset="0.9936" stop-color="#f8c030"/></linearGradient></defs>
<rect x="67.00" y="1028.40" width="251.00" height="6.40" fill="url(#rg10)"/>
<rect x="51.20" y="1028.40" width="279.40" height="6.40" fill="none" stroke="#8c8c8c" stroke-width="1.8"/>
<line x1="51.20" y1="950.80" x2="330.60" y2="950.80" stroke="#000" stroke-width="2.4" stroke-dasharray="5.3 5.4" stroke-dashoffset="5.5"/>
<line x1="51.00" y1="829.50" x2="51.00" y2="1057.10" stroke="#000" stroke-width="1.6" />
<line x1="50.20" y1="1056.30" x2="330.60" y2="1056.30" stroke="#000" stroke-width="1.6" />
<line x1="51.00" y1="1031.80" x2="53.60" y2="1031.80" stroke="#000" stroke-width="1.6" />
<line x1="51.00" y1="991.30" x2="53.60" y2="991.30" stroke="#000" stroke-width="1.6" />
<line x1="51.00" y1="950.80" x2="53.60" y2="950.80" stroke="#000" stroke-width="1.6" />
<line x1="51.00" y1="910.30" x2="53.60" y2="910.30" stroke="#000" stroke-width="1.6" />
<line x1="51.00" y1="869.80" x2="53.60" y2="869.80" stroke="#000" stroke-width="1.6" />
<text x="45.6" y="1037.6" font-size="15.8" text-anchor="end" fill="#111" >10</text>
<text x="45.6" y="956.6" font-size="15.8" text-anchor="end" fill="#111" >20</text>
<text x="45.6" y="875.6" font-size="15.8" text-anchor="end" fill="#111" >30</text>
<line x1="68.68" y1="1053.70" x2="68.68" y2="1056.30" stroke="#000" stroke-width="1.6" />
<line x1="86.14" y1="1051.00" x2="86.14" y2="1056.30" stroke="#000" stroke-width="1.6" />
<line x1="103.60" y1="1053.70" x2="103.60" y2="1056.30" stroke="#000" stroke-width="1.6" />
<line x1="121.06" y1="1051.00" x2="121.06" y2="1056.30" stroke="#000" stroke-width="1.6" />
<line x1="138.52" y1="1053.70" x2="138.52" y2="1056.30" stroke="#000" stroke-width="1.6" />
<line x1="155.98" y1="1051.00" x2="155.98" y2="1056.30" stroke="#000" stroke-width="1.6" />
<line x1="173.44" y1="1053.70" x2="173.44" y2="1056.30" stroke="#000" stroke-width="1.6" />
<line x1="190.90" y1="1051.00" x2="190.90" y2="1056.30" stroke="#000" stroke-width="1.6" />
<line x1="208.36" y1="1053.70" x2="208.36" y2="1056.30" stroke="#000" stroke-width="1.6" />
<line x1="225.82" y1="1051.00" x2="225.82" y2="1056.30" stroke="#000" stroke-width="1.6" />
<line x1="243.28" y1="1053.70" x2="243.28" y2="1056.30" stroke="#000" stroke-width="1.6" />
<line x1="260.74" y1="1051.00" x2="260.74" y2="1056.30" stroke="#000" stroke-width="1.6" />
<line x1="278.20" y1="1053.70" x2="278.20" y2="1056.30" stroke="#000" stroke-width="1.6" />
<line x1="295.66" y1="1051.00" x2="295.66" y2="1056.30" stroke="#000" stroke-width="1.6" />
<line x1="313.12" y1="1053.70" x2="313.12" y2="1056.30" stroke="#000" stroke-width="1.6" />
<line x1="330.58" y1="1051.00" x2="330.58" y2="1056.30" stroke="#000" stroke-width="1.6" />
<text x="44.6" y="1075.7" font-size="15.8" text-anchor="middle" fill="#111" >−80</text>
<text x="113.6" y="1075.7" font-size="15.8" text-anchor="middle" fill="#111" >−40</text>
<text x="190.4" y="1075.7" font-size="15.8" text-anchor="middle" fill="#111" >0</text>
<text x="260.2" y="1075.7" font-size="15.8" text-anchor="middle" fill="#111" >40</text>
<text x="328.0" y="1075.7" font-size="15.8" text-anchor="middle" fill="#111" >80</text>
<text x="17.8" y="948.1" font-size="15.8" text-anchor="middle" fill="#111" transform="rotate(-90 17.8 948.1)">Full spreading rate (mm year<tspan font-size="11" dy="-6">−1</tspan><tspan dy="6">)</tspan></text>
<text x="190.4" y="1096.2" font-size="16.1" text-anchor="middle" fill="#111" >Across-axis distance (km)</text>
<text x="0.3" y="824.5" font-size="22" text-anchor="start" font-weight="bold" fill="#000" >d</text>
<defs><linearGradient id="cbg" x1="0" x2="1" y1="0" y2="0"><stop offset="0" stop-color="#1a5ef0"/><stop offset="0.1" stop-color="#2888f0"/><stop offset="0.2" stop-color="#30c0f0"/><stop offset="0.3" stop-color="#38e0f0"/><stop offset="0.4" stop-color="#40e8f0"/><stop offset="0.45" stop-color="#a8f0e0"/><stop offset="0.55" stop-color="#f8e030"/><stop offset="0.6" stop-color="#f8b820"/><stop offset="0.8" stop-color="#f08820"/><stop offset="0.9" stop-color="#f06018"/><stop offset="1.0" stop-color="#e83010"/></linearGradient></defs>
<rect x="232.2" y="1040.5" width="60.80" height="7.00" fill="url(#cbg)" stroke="#000" stroke-width="1.6"/>
<line x1="244.36" y1="1040.50" x2="244.36" y2="1047.50" stroke="#000" stroke-width="1.3" />
<line x1="256.52" y1="1040.50" x2="256.52" y2="1047.50" stroke="#000" stroke-width="1.3" />
<line x1="268.68" y1="1040.50" x2="268.68" y2="1047.50" stroke="#000" stroke-width="1.3" />
<line x1="280.84" y1="1040.50" x2="280.84" y2="1047.50" stroke="#000" stroke-width="1.3" />
<text x="227.5" y="1047.6" font-size="15.8" text-anchor="middle" fill="#111" >0</text>
<text x="294.6" y="1047.6" font-size="15.8" text-anchor="start" fill="#111" >5 km</text>
</svg></body></html>
